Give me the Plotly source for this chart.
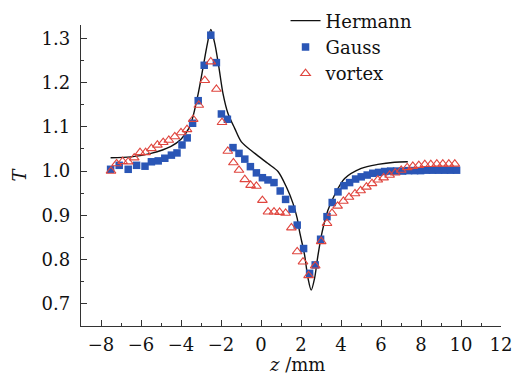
import plotly.graph_objects as go

# Hermann (theory curve)
herm_z = [-7.52, -6.5, -5.5, -4.5, -4.0, -3.6, -3.45, -3.14, -2.89, -2.68, -2.51, -2.31, -2.11, -1.90,
          -1.65, -1.31, -0.98, -0.31, 0.35, 0.85, 1.26, 1.60, 1.81, 1.93, 2.18, 2.35, 2.51, 2.68, 2.85,
          3.06, 3.35, 3.68, 4.18, 5.01, 5.84, 6.68, 7.34]
herm_T = [1.030, 1.032, 1.040, 1.056, 1.072, 1.097, 1.115, 1.175, 1.236, 1.288, 1.320, 1.288, 1.236, 1.175,
          1.130, 1.096, 1.066, 1.040, 1.017, 0.999, 0.965, 0.927, 0.893, 0.863, 0.810, 0.758, 0.731, 0.758, 0.810,
          0.863, 0.912, 0.946, 0.983, 1.006, 1.015, 1.020, 1.021]

# Gauss beam measurements
gauss_z = [-7.52, -7.09, -6.64, -6.22, -5.80, -5.48, -5.14, -4.81, -4.48, -4.20, -3.95, -3.69, -3.42,
           -3.14, -2.84, -2.51, -2.23, -1.98, -1.68, -1.40, -1.10, -0.81, -0.53, -0.23, 0.07, 0.35, 0.65,
           0.96, 1.23, 1.55, 1.81, 2.13, 2.43, 2.71, 2.98, 3.30, 3.56, 3.85, 4.15, 4.43, 4.73, 5.01, 5.31,
           5.59, 5.88, 6.18, 6.48, 6.78, 7.08, 7.38, 7.68, 7.98, 8.28, 8.58, 8.88, 9.18, 9.48, 9.78]
gauss_T = [1.004, 1.013, 1.004, 1.013, 1.011, 1.021, 1.023, 1.029, 1.036, 1.041, 1.059, 1.075, 1.108,
           1.159, 1.239, 1.307, 1.245, 1.129, 1.117, 1.053, 1.040, 1.027, 1.010, 0.996, 0.985, 0.980, 0.974,
           0.955, 0.936, 0.914, 0.878, 0.825, 0.769, 0.788, 0.846, 0.897, 0.929, 0.953, 0.967, 0.974, 0.982,
           0.987, 0.991, 0.995, 0.997, 0.999, 1.000, 1.000, 1.000, 1.001, 1.001, 1.001, 1.002, 1.002, 1.002,
           1.002, 1.002, 1.002]

# vortex beam measurements
vortex_z = [-7.50, -7.22, -6.92, -6.64, -6.34, -6.05, -5.77, -5.48, -5.18, -4.89, -4.61, -4.31, -4.00,
            -3.70, -3.39, -3.11, -2.81, -2.51, -2.23, -1.95, -1.66, -1.38, -1.10, -0.81, -0.52, -0.23, 0.07,
            0.35, 0.65, 0.93, 1.23, 1.52, 1.81, 2.10, 2.38, 2.71, 3.01, 3.30, 3.55, 3.83, 4.12, 4.40, 4.70,
            4.98, 5.27, 5.55, 5.84, 6.13, 6.43, 6.71, 7.01, 7.31, 7.59, 7.89, 8.19, 8.49, 8.79, 9.09, 9.39, 9.69]
vortex_T = [1.000, 1.017, 1.022, 1.021, 1.030, 1.042, 1.042, 1.051, 1.059, 1.065, 1.070, 1.078, 1.087,
            1.094, 1.117, 1.149, 1.205, 1.247, 1.185, 1.110, 1.045, 1.019, 1.002, 0.981, 0.968, 0.966, 0.934,
            0.908, 0.908, 0.907, 0.905, 0.872, 0.818, 0.795, 0.764, 0.786, 0.841, 0.882, 0.905, 0.921, 0.932,
            0.941, 0.949, 0.956, 0.964, 0.972, 0.980, 0.985, 0.991, 0.996, 1.002, 1.008, 1.011, 1.013, 1.015,
            1.015, 1.016, 1.016, 1.016, 1.016]

x_ticks = [-8, -6, -4, -2, 0, 2, 4, 6, 8, 10, 12]
y_ticks = [0.7, 0.8, 0.9, 1.0, 1.1, 1.2, 1.3]
x_title = "<i>z</i> /mm"
y_title = "<i>T</i>"

FONT = "DejaVu Serif"
FS = 18
AX = "#333333"

fig = go.Figure()
fig.add_trace(go.Scatter(x=herm_z, y=herm_T, mode="lines", name="Hermann",
                         line=dict(color="#111111", width=1.4, shape="spline", smoothing=0.8)))
fig.add_trace(go.Scatter(x=gauss_z, y=gauss_T, mode="markers", name="Gauss",
                         marker=dict(symbol="square", size=7.5, color="#2a56b6", line=dict(width=0))))
fig.add_trace(go.Scatter(x=vortex_z, y=vortex_T, mode="markers", name="vortex",
                         marker=dict(symbol="triangle-up-open", size=8.5, color="#e0463f",
                                     line=dict(width=1.1, color="#e0463f"))))

fig.update_layout(
    width=521, height=374,
    margin=dict(l=73, r=28, t=17, b=56, autoexpand=False),
    paper_bgcolor="white", plot_bgcolor="white",
    font=dict(family=FONT, size=FS, color="#111111"),
    showlegend=True,
    legend=dict(x=0.487, y=1.075, xanchor="left", yanchor="top",
                bgcolor="rgba(0,0,0,0)", font=dict(family=FONT, size=FS), tracegroupgap=0, itemwidth=30),
    annotations=[dict(text=x_title, xref="paper", yref="paper", x=0.514, y=-0.128,
                      xanchor="center", yanchor="middle", showarrow=False,
                      font=dict(family=FONT, size=FS, color="#111111"))],
)
fig.update_xaxes(range=[-9, 12], tickvals=x_ticks, ticks="inside", ticklen=6, tickwidth=1.2,
                 tickcolor=AX, showline=True, linecolor=AX, linewidth=1.3, showgrid=False,
                 zeroline=False, minor=dict(dtick=1, ticks="inside", ticklen=3, tickcolor=AX, tickwidth=1.2),
                 tickfont=dict(family=FONT, size=FS), ticklabelstandoff=2, automargin=False)
fig.update_yaxes(range=[0.65, 1.33], tickvals=y_ticks, tickformat=".1f", ticks="inside", ticklen=6,
                 tickwidth=1.2, tickcolor=AX, showline=True, linecolor=AX, linewidth=1.3, showgrid=False,
                 zeroline=False, minor=dict(dtick=0.05, tick0=0.65, ticks="inside", ticklen=3, tickcolor=AX, tickwidth=1.2),
                 title=dict(text=y_title, standoff=10, font=dict(family=FONT, size=FS)),
                 tickfont=dict(family=FONT, size=FS), ticklabelstandoff=6, automargin=False)

fig.write_html("out.html")
